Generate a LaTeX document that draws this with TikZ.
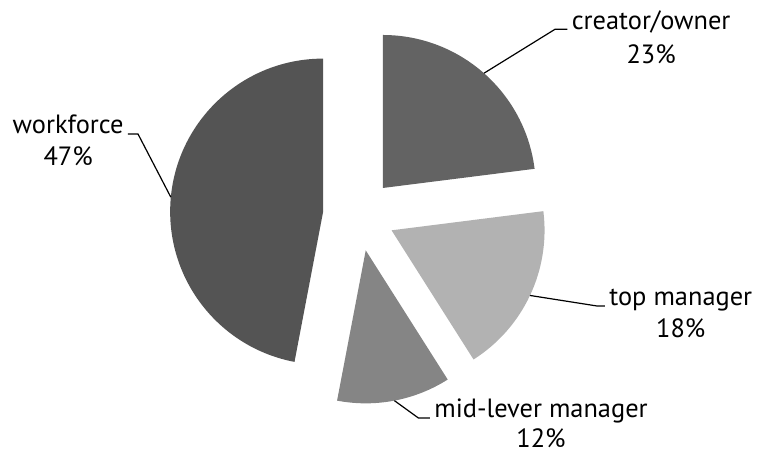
\documentclass[tikz,border=0pt]{standalone}
\usepackage{fontspec}
\setsansfont{PT Sans}
\usepackage{tikz}
\usetikzlibrary{calc,positioning}

\begin{document}
\begin{tikzpicture}[
    font=\sffamily\fontsize{13.2pt}{16pt}\selectfont,
    leader/.style={line width=0.6pt, black},
    tag/.style={inner xsep=2pt, inner ysep=0pt},
    share/.style={anchor=base, inner sep=0pt}
]
\useasboundingbox (-179.5pt,-119pt) rectangle (199pt,107.5pt);
% slices, each pulled out along its middle
\fill[black!61] (48.6:18pt) -- ++(7.2:76.5pt)
    arc[start angle=7.2, end angle=90, radius=76.5pt] -- cycle;
\fill[black!30] (-25.2:18pt) -- ++(-57.6:76.5pt)
    arc[start angle=-57.6, end angle=7.2, radius=76.5pt] -- cycle;
\fill[black!48] (-79.2:18pt) -- ++(-100.8:76.5pt)
    arc[start angle=-100.8, end angle=-57.6, radius=76.5pt] -- cycle;
\fill[black!67] (174.6:18pt) -- ++(90:76.5pt)
    arc[start angle=90, end angle=259.2, radius=76.5pt] -- cycle;
% labels
\coordinate (ownerpt) at (48.6:94.5pt);
\coordinate (ownerbend) at (98pt,92.85pt);
\node[tag, anchor=base west] (owner) at (104.2pt,92.85pt) {creator/owner};
\node[share] (ownerpct) at ([yshift=-17pt]owner.base) {23\%};
\draw[leader] (ownerpt) -- (ownerbend) -- (owner.base west);

\coordinate (workpt) at (174.6:94.5pt);
\coordinate (workbend) at (-110.5pt,40.5pt);
\node[tag, anchor=base east] (work) at (-115.5pt,40.5pt) {workforce};
\node[share] (workpct) at ([yshift=-16pt]work.base) {47\%};
\draw[leader] (workpt) -- (workbend) -- (work.base east);

\coordinate (toppt) at (-25.2:94.5pt);
\coordinate (topbend) at (119pt,-45.5pt);
\node[tag, anchor=base west] (top) at (123pt,-45.5pt) {top manager};
\node[share] (toppct) at ([yshift=-16pt]top.base) {18\%};
\draw[leader] (toppt) -- (topbend) -- (top.base west);

\coordinate (midpt) at (-79.2:94.5pt);
\coordinate (midbend) at (29.7pt,-101.5pt);
\node[tag, anchor=base west] (mid) at (35.5pt,-101.5pt) {mid-lever manager};
\node[share] (midpct) at ([yshift=-15pt]mid.base) {12\%};
\draw[leader] (midpt) -- (midbend) -- (mid.base west);
\end{tikzpicture}
\end{document}
